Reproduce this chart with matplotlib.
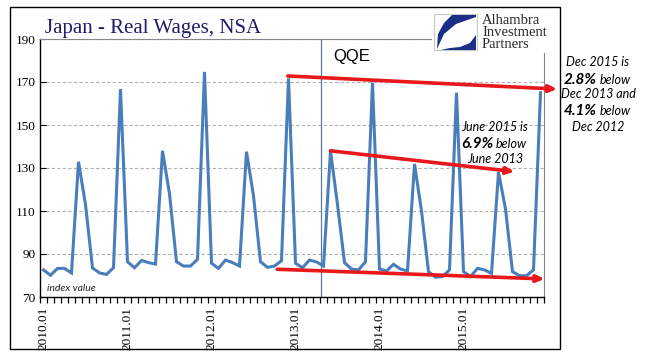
import matplotlib
matplotlib.use("Agg")
from matplotlib import pyplot as plt
from matplotlib.patches import Rectangle, Polygon
import numpy as np

# monthly index values, Jan 2010 .. Dec 2015
wages_2010 = [82.6, 80.1, 83.3, 83.3, 81.2, 132.9, 113.0, 83.5, 81.2, 80.5, 83.6, 166.7]
wages_2011 = [86.4, 83.6, 87.0, 86.0, 85.3, 138.0, 118.0, 86.4, 84.4, 84.4, 87.5, 174.7]
wages_2012 = [85.7, 83.3, 87.2, 86.0, 84.4, 137.6, 117.0, 86.4, 83.8, 84.4, 86.9, 171.7]
wages_2013 = [85.7, 83.6, 87.2, 86.3, 84.4, 137.9, 113.0, 86.0, 83.0, 82.6, 86.4, 169.7]
wages_2014 = [83.0, 82.1, 85.2, 83.0, 82.1, 131.9, 110.0, 81.8, 79.2, 79.5, 82.6, 165.0]
wages_2015 = [81.8, 79.5, 83.3, 82.6, 81.0, 128.1, 111.0, 81.8, 79.9, 79.9, 82.6, 165.0]
wages = wages_2010 + wages_2011 + wages_2012 + wages_2013 + wages_2014 + wages_2015

years = [2010, 2011, 2012, 2013, 2014, 2015]
year_labels = ['%d.01' % y for y in years]
y_ticks = [70, 90, 110, 130, 150, 170, 190]

qqe_month = 39.6
# trend arrows: (start month, start value, end month, end value)
arrow_top = (34.9, 172.8, 73.4, 166.7)
arrow_mid = (41.0, 138.0, 67.3, 128.3)
arrow_low = (33.4, 82.9, 71.6, 78.4)

W, H = 645, 361
def fx(x):
    return x / W
def fy(y):
    return 1 - y / H

fig = plt.figure(figsize=(6.45, 3.61), dpi=100)
ax = fig.add_axes([fx(40), fy(297), fx(544) - fx(40), fy(39) - fy(297)])

months = np.arange(len(wages))
ax.plot(months, wages, color='#4a7ebb', lw=2.2, solid_joinstyle='miter', zorder=3)

ax.set_xlim(-0.5, 71.5)
ax.set_ylim(70, 190)
ax.set_yticks(y_ticks)
ax.set_yticklabels([str(v) for v in y_ticks], family='Liberation Serif', fontsize=9.5)
ax.yaxis.grid(True, color='#b0b0b0', ls=(0, (3, 2)), lw=0.8)
ax.tick_params(axis='y', length=4, direction='in', left=True, pad=3)

ax.set_xticks(np.arange(0, 72, 12))
ax.set_xticklabels(year_labels, rotation=90, family='Liberation Serif', fontsize=9.5)
ax.set_xticks(np.arange(-0.5, 72, 1), minor=True)
ax.tick_params(axis='x', which='major', length=0, pad=7)
ax.tick_params(axis='x', which='minor', length=4, direction='out', width=0.9)

for side in ['left', 'bottom']:
    ax.spines[side].set_color('black')
    ax.spines[side].set_linewidth(1.0)
for side in ['top', 'right']:
    ax.spines[side].set_color('#888888')
    ax.spines[side].set_linewidth(0.8)

ax.axvline(qqe_month, color='#5a7aa6', lw=0.9, zorder=2)

red = '#e8191b'
for x0, y0, x1, y1 in [arrow_top, arrow_mid, arrow_low]:
    ax.annotate('', xy=(x1, y1), xytext=(x0, y0), annotation_clip=False,
                arrowprops=dict(arrowstyle='-|>,head_length=0.45,head_width=0.2',
                                color=red, lw=2.6, shrinkA=0, shrinkB=0), zorder=5)

ax.text(0.5, 73, 'index value', style='italic', family='Lato', fontsize=7.5, color='#222222')

# title and labels in figure pixels
fig.text(fx(45), fy(33), 'Japan - Real Wages, NSA', family='Liberation Serif',
         fontsize=15, color='#1c1c6b', va='baseline')
fig.text(fx(333), fy(56), 'QQE', family='Liberation Sans', fontsize=12, color='black', va='center')

def mixed_line(xc, y, bold, rest, size=9):
    # bold part sits left of the split point, plain part right of it
    fig.text(fx(xc), fy(y), bold, family='Lato', style='italic', weight='bold',
             fontsize=size + 2, ha='right', va='center')
    fig.text(fx(xc + 3), fy(y), rest, family='Lato', style='italic',
             fontsize=size, ha='left', va='center')

txt = dict(family='Lato', style='italic', fontsize=9, ha='center', va='center')
fig.text(fx(598), fy(61.5), 'Dec 2015 is', **txt)
mixed_line(597, 79.5, '2.8%', 'below')
fig.text(fx(598), fy(94.5), 'Dec 2013 and', **txt)
mixed_line(597, 111, '4.1%', 'below')
fig.text(fx(598), fy(127), 'Dec 2012', **txt)

fig.text(fx(495), fy(127), 'June 2015 is', **txt)
mixed_line(493, 144, '6.9%', 'below')
fig.text(fx(495), fy(159), 'June 2013', **txt)

# logo block
fig.patches.append(Rectangle((fx(432), fy(53)), fx(556) - fx(432), fy(8) - fy(53),
                             transform=fig.transFigure, facecolor='white', edgecolor='none', zorder=6))
fig.patches.append(Rectangle((fx(434), fy(50)), fx(477) - fx(434), fy(14) - fy(50),
                             transform=fig.transFigure, facecolor='white', edgecolor='#c8c8c8',
                             lw=0.8, zorder=7))
blue = '#1b2f86'
sweep = [(452, 15), (476, 15), (476, 17), (456, 24), (444, 34), (437, 49), (438, 34), (444, 23)]
crescent = [(441, 50), (476, 50), (476, 35), (470, 43), (460, 47), (450, 48)]
for pts in [sweep, crescent]:
    fig.patches.append(Polygon([(fx(a), fy(b)) for a, b in pts], closed=True,
                               transform=fig.transFigure, facecolor=blue, edgecolor='none', zorder=8))
logo = dict(family='Liberation Serif', fontsize=10.5, color='#2a2a2a', va='center', ha='left', zorder=9)
fig.text(fx(482), fy(20), 'Alhambra', **logo)
fig.text(fx(482), fy(32), 'Investment', **logo)
fig.text(fx(482), fy(44), 'Partners', **logo)

# outer frame
fig.patches.append(Rectangle((fx(9.5), fy(349)), fx(560) - fx(9.5), fy(7) - fy(349),
                             transform=fig.transFigure, facecolor='none', edgecolor='black',
                             lw=1.0, zorder=10))

fig.savefig('out.png', dpi=100)
